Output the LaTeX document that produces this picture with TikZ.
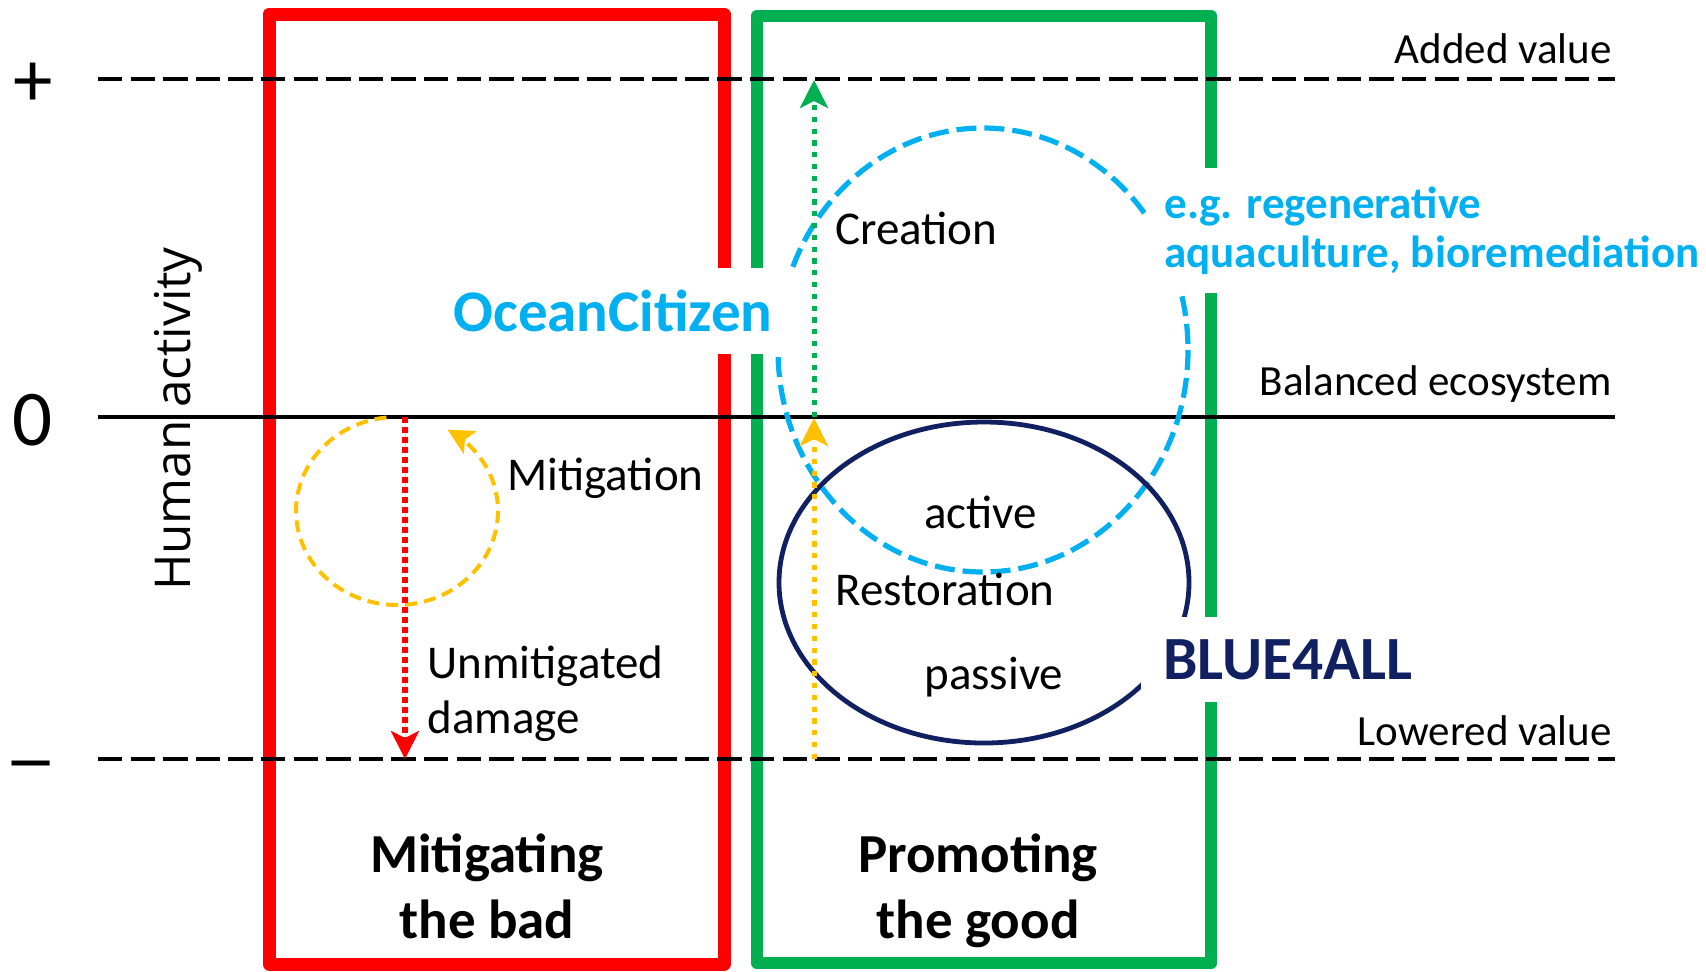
\documentclass[tikz,border=0pt]{standalone}
\usepackage{fontspec}
\setmainfont{Carlito}
\newfontfamily\opensans{Open Sans}
\usetikzlibrary{arrows.meta}
\definecolor{myred}{RGB}{255,0,0}
\definecolor{mygreen}{RGB}{0,176,80}
\definecolor{mycyan}{RGB}{0,176,240}
\definecolor{mygold}{RGB}{255,192,0}
\definecolor{mynavy}{RGB}{16,32,96}
\newcommand\fsz[2]{\fontsize{#1}{#2}\selectfont}
\begin{document}
\begin{tikzpicture}[x=0.5pt,y=-0.5pt,
  redbox/.style={draw=myred,line width=6.5pt,line join=round},
  greenbox/.style={draw=mygreen,line width=6.2pt,line join=round},
  levelline/.style={line width=2.4pt,dash pattern=on 12.2pt off 4.1pt},
  zeroline/.style={line width=2.2pt},
  cyandash/.style={draw=mycyan,line width=2.6pt,dash pattern=on 10pt off 4pt},
  navyline/.style={draw=mynavy,line width=2.4pt},
  golddash/.style={draw=mygold,line width=2pt,dash pattern=on 6pt off 3.5pt},
  tipA/.style={-{Stealth[length=14pt,width=14pt,inset=3.5pt]}},
  reddot/.style={draw=myred,fill=myred,line width=3pt,dash pattern=on 2.8pt off 2.2pt,tipA},
  greendot/.style={draw=mygreen,fill=mygreen,line width=2.5pt,dash pattern=on 2.6pt off 3.3pt,tipA},
  golddot/.style={draw=mygold,fill=mygold,line width=2.5pt,dash pattern=on 2.6pt off 3.3pt,tipA},
  txt/.style={inner sep=0pt,font=\fsz{23.5pt}{27.5pt}},
  lab/.style={inner sep=0pt,font=\fsz{21.5pt}{26pt}},
  boldlab/.style={inner sep=0pt,align=center,font=\bfseries\fsz{27.5pt}{33pt}},
  sym/.style={inner sep=0pt,font=\fsz{39.5pt}{44pt}},
  mask/.style={fill=white,inner ysep=0pt}
]
\useasboundingbox (0,0) rectangle (1706,971);

% boxes
\draw[redbox] (269,14) rectangle (724,964);
\draw[greenbox] (757,16) rectangle (1211,963);

% level lines
\coordinate (pl) at (98,79);  \coordinate (pr) at (1615,79);
\coordinate (zl) at (98,417); \coordinate (zr) at (1615,417);
\coordinate (ml) at (98,759); \coordinate (mr) at (1615,759);
\draw[levelline] (pl) -- (pr);
\draw[zeroline] (zl) -- (zr);
\draw[levelline] (ml) -- (mr);

% circles
\draw[cyandash] (983,350) ellipse [x radius=205, y radius=222];
\draw[navyline] (984,582.5) ellipse [x radius=205, y radius=160.5];
\draw[golddash,-{Stealth[length=13pt,width=13pt,inset=3pt]}]
  plot[domain=96:420,samples=120,variable=\t] ({397+101*cos(\t)},{511-94*sin(\t)});

% arrows
\coordinate (rs) at (405,417); \coordinate (re) at (405,759);
\coordinate (gs) at (814,417); \coordinate (ge) at (814,80);
\coordinate (ys) at (814,759); \coordinate (ye) at (814,418);
\draw[reddot] (rs) -- (re);
\draw[greendot] (gs) -- (ge);
\draw[golddot] (ys) -- (ye);

% masking labels
\node[mask,anchor=east,inner xsep=13.5pt,minimum height=43pt,text=mycyan,
  font=\bfseries\fsz{29.5pt}{34pt}] (ocean) at (800,311) {OceanCitizen};
\node[mask,anchor=north west,inner xsep=9pt,minimum height=62.5pt,align=left,text=mycyan,
  font=\bfseries\fsz{22.5pt}{24.5pt}] (eg) at (1146,168) {e.g. regenerative\\aquaculture, bioremediation};
\node[mask,anchor=west,inner xsep=11pt,minimum height=42.5pt,text=mynavy,
  font=\bfseries\fsz{30.7pt}{34pt}] (blue) at (1141,659.5) {BLUE4ALL};

% axis labels
\node[sym] (plus) at (33,85) {+};
\node[sym,anchor=base] (zero) at (33,445) {0};
\node[sym] (minus) at (31,773) {\scalebox{1.35}[1]{–}};
\node[rotate=90,anchor=base,inner sep=0pt,font=\opensans\fsz{24.7pt}{28pt}] (human) at (190,419) {Human activity};

% level labels
\node[lab,anchor=base east] (added) at (1612,63) {Added value};
\node[lab,anchor=base east] (balanced) at (1612,395) {Balanced ecosystem};
\node[lab,anchor=base east] (lowered) at (1612,745) {Lowered value};

% inner labels
\node[txt,anchor=base west] (creation) at (835,244) {Creation};
\node[txt,anchor=base west] (mitigation) at (507,490) {Mitigation};
\node[txt,anchor=base west] (active) at (924,528) {active};
\node[txt,anchor=base west] (restoration) at (835,605) {Restoration};
\node[txt,anchor=base west] (passive) at (924,689) {passive};
\node[txt,anchor=base west,align=left] (unmit) at (427,733) {Unmitigated\\damage};

% box titles
\node[boldlab,anchor=base] (mtb) at (487,938) {Mitigating\\the bad};
\node[boldlab,anchor=base] (ptg) at (978,938) {Promoting\\the good};
\end{tikzpicture}
\end{document}
